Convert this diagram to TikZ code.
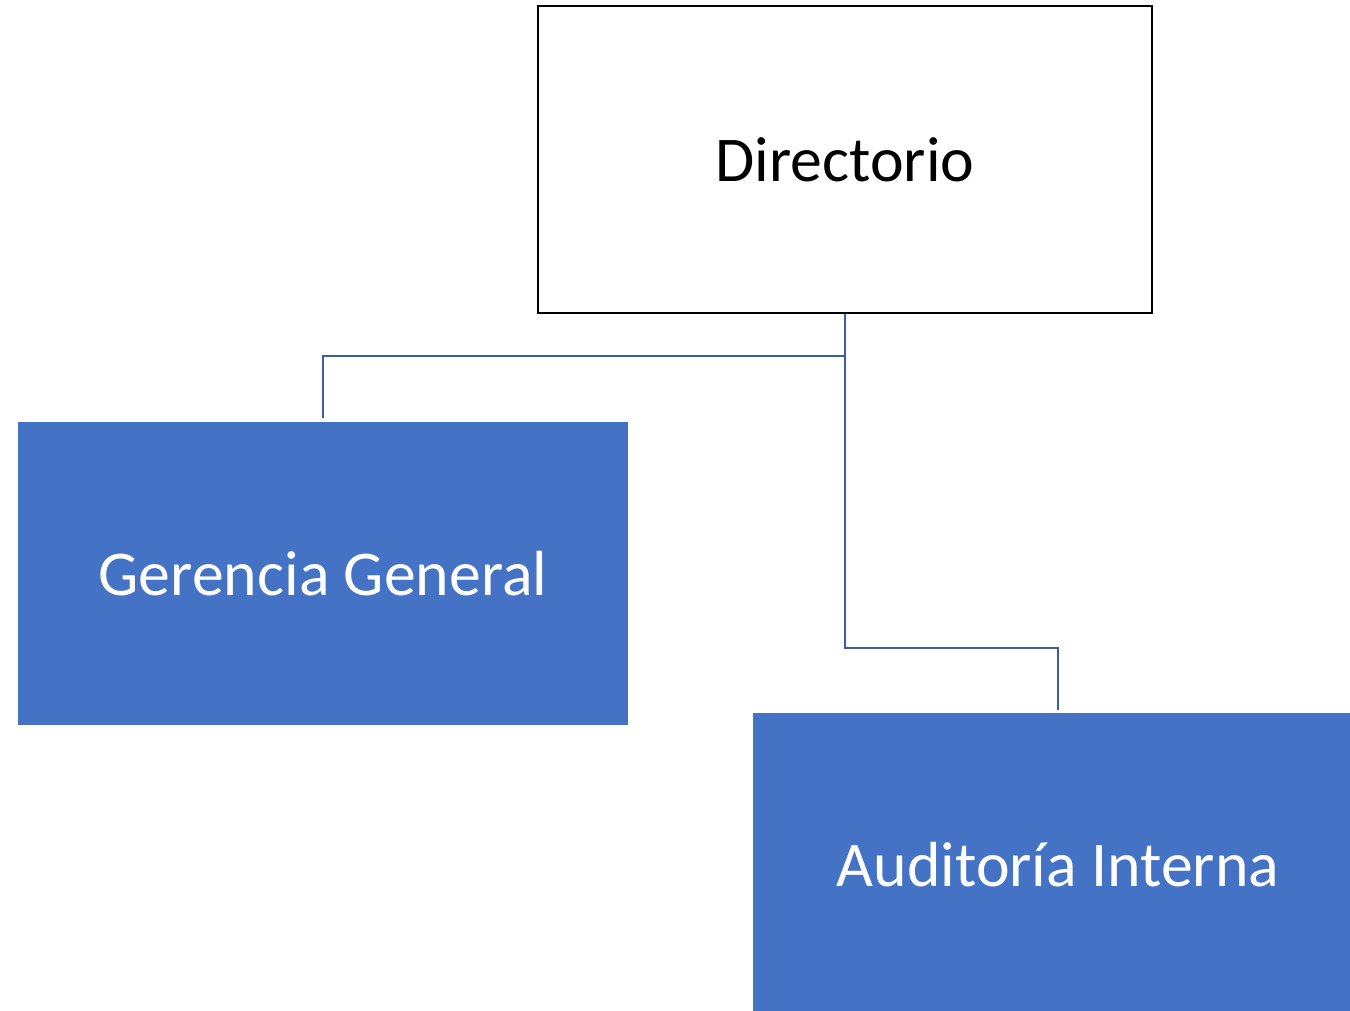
\documentclass[tikz,border=0pt]{standalone}
\usepackage{fontspec}
\setmainfont{Carlito}
\usepackage{tikz}
\usetikzlibrary{positioning}
\definecolor{orgblue}{HTML}{4472C4}
\definecolor{linkblue}{HTML}{3A5DA6}
\tikzset{
  unitbox/.style={rectangle, minimum width=12.2cm, minimum height=6.06cm,
    inner sep=0pt, font=\fontsize{36.3}{44}\selectfont},
  topbox/.style={unitbox, draw=black, line width=1.2pt, fill=white, text=black},
  subbox/.style={unitbox, fill=orgblue, text=white},
  link/.style={draw=linkblue, line width=1.2pt}
}
\begin{document}
\begin{tikzpicture}[x=0.02cm,y=-0.02cm]
  \useasboundingbox (0,0) rectangle (1350,1011);
  \node [topbox, minimum width=12.28cm, minimum height=6.14cm] (dir) at (845,159.5) {Directorio};
  \node [subbox] (gg) at (323,573.5) {Gerencia General};
  \node [subbox] (ai) at (1058,864.5) {Auditoría Interna};
  \coordinate (ggtop) at (323,418);
  \coordinate (aitop) at (1058,710);
  \draw [link] (dir.south) -- ++(0,42) -| (ggtop);
  \draw [link] (dir.south) -- ++(0,334) -| (aitop);
\end{tikzpicture}
\end{document}
